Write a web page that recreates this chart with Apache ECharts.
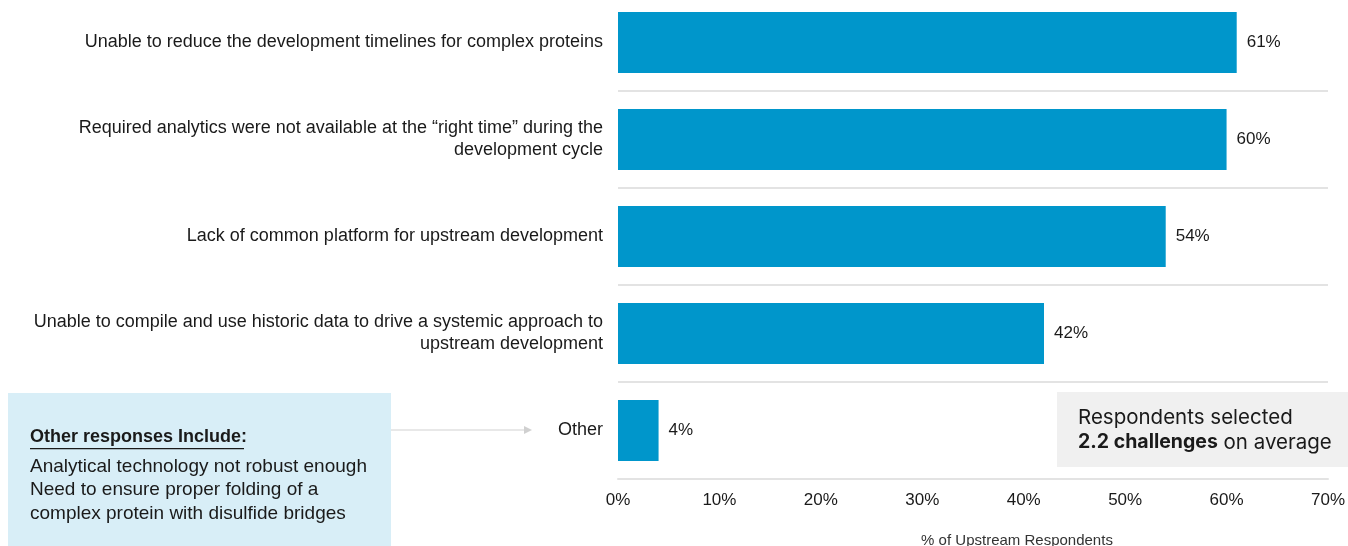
<!DOCTYPE html>
<html>
<head>
<meta charset="utf-8">
<script src="https://cdn.jsdelivr.net/npm/echarts@6/dist/echarts.min.js"></script>
<style>
  html, body { margin: 0; padding: 0; background: #fff; overflow: hidden; }
  /* chart is shifted up so the first row band starts above the window */
  #chart { position: absolute; left: 0; top: -6px; width: 1348px; height: 552px; }
</style>
</head>
<body>
<div id="chart"></div>
<script>
// top to bottom
let categories = [
  'Unable to reduce the development timelines for complex proteins',
  'Required analytics were not available at the \u201cright time\u201d during the\ndevelopment cycle',
  'Lack of common platform for upstream development',
  'Unable to compile and use historic data to drive a systemic approach to\nupstream development',
  'Other'
];
let values = [61, 60, 54, 42, 4];
let xTicks = [0, 10, 20, 30, 40, 50, 60, 70];
let axisTitle = '% of Upstream Respondents';
let otherTitle = 'Other responses Include:';
let otherLines = [
  'Analytical technology not robust enough',
  'Need to ensure proper folding of a',
  'complex protein with disulfide bridges'
];
let calloutLine1 = 'Respondents selected';
let calloutBold = '2.2 challenges';
let calloutRest = ' on average';

const OFF = 6; // page y -> chart y
let font = '"Liberation Sans", Arial, sans-serif';
let myChart = echarts.init(document.getElementById('chart'));

let option = {
  backgroundColor: '#fff',
  animation: false,
  grid: {
    left: 618, right: 20, top: 0, bottom: 67,
    containLabel: false,
    outerBoundsMode: 'none'
  },
  xAxis: {
    type: 'value',
    min: xTicks[0],
    max: xTicks[xTicks.length - 1],
    interval: 10,
    axisLine: { show: true, lineStyle: { color: '#e3e3e3', width: 2 } },
    axisTick: { show: false },
    splitLine: { show: false },
    axisLabel: {
      formatter: '{value}%',
      color: '#1a1a1a',
      fontFamily: font,
      fontSize: 17,
      margin: 13
    },
    name: axisTitle,
    nameLocation: 'middle',
    nameGap: 54,
    nameTextStyle: {
      color: '#333',
      fontFamily: font,
      fontSize: 15,
      padding: [0, 0, 0, 88]
    }
  },
  yAxis: {
    type: 'category',
    inverse: true,
    data: categories,
    axisLine: { show: false },
    axisTick: { show: false },
    splitLine: { show: true, lineStyle: { color: '#e3e3e3', width: 2 } },
    axisLabel: {
      color: '#1a1a1a',
      fontFamily: font,
      fontSize: 18,
      lineHeight: 22,
      margin: 15,
      align: 'right'
    }
  },
  series: [
    {
      type: 'bar',
      data: values,
      barWidth: 61,
      itemStyle: { color: '#0096cb' },
      label: {
        show: true,
        position: 'right',
        distance: 10,
        formatter: '{c}%',
        color: '#1a1a1a',
        fontFamily: font,
        fontSize: 17
      }
    }
  ],
  graphic: [
    // left note box
    {
      type: 'rect',
      shape: { x: 8, y: 393 + OFF, width: 383, height: 160 },
      style: { fill: '#d8eef7' },
      z: 1
    },
    {
      type: 'text',
      x: 30, y: 428 + OFF,
      style: {
        text: otherTitle,
        font: 'bold 18px ' + font,
        fill: '#1a1a1a'
      },
      z: 2
    },
    {
      type: 'rect',
      shape: { x: 30, y: 448 + OFF, width: 214, height: 1.3 },
      style: { fill: '#1a1a1a' },
      z: 2
    },
    {
      type: 'text',
      x: 30, y: 455 + OFF,
      style: {
        text: otherLines.join('\n'),
        font: '19px ' + font,
        lineHeight: 23.5,
        fill: '#1a1a1a'
      },
      z: 2
    },
    // arrow to "Other"
    {
      type: 'line',
      shape: { x1: 391, y1: 430 + OFF, x2: 526, y2: 430 + OFF },
      style: { stroke: '#e0e0e0', lineWidth: 1.5 },
      z: 1
    },
    {
      type: 'polygon',
      shape: { points: [[524, 426 + OFF], [532, 430 + OFF], [524, 434 + OFF]] },
      style: { fill: '#d0d0d0' },
      z: 1
    },
    // callout box
    {
      type: 'rect',
      shape: { x: 1057, y: 392 + OFF, width: 291, height: 75 },
      style: { fill: '#f0f0f0' },
      z: 1
    },
    {
      type: 'text',
      x: 1078, y: 405 + OFF,
      style: {
        text: calloutLine1 + '\n{b|' + calloutBold + '}' + calloutRest,
        font: '20.5px Inter, "Noto Sans", sans-serif',
        lineHeight: 25,
        fill: '#1a1a1a',
        rich: {
          b: { font: 'bold 19.5px Inter, "Noto Sans", sans-serif', fill: '#1a1a1a' }
        }
      },
      z: 2
    }
  ]
};

myChart.setOption(option);
</script>
</body>
</html>
